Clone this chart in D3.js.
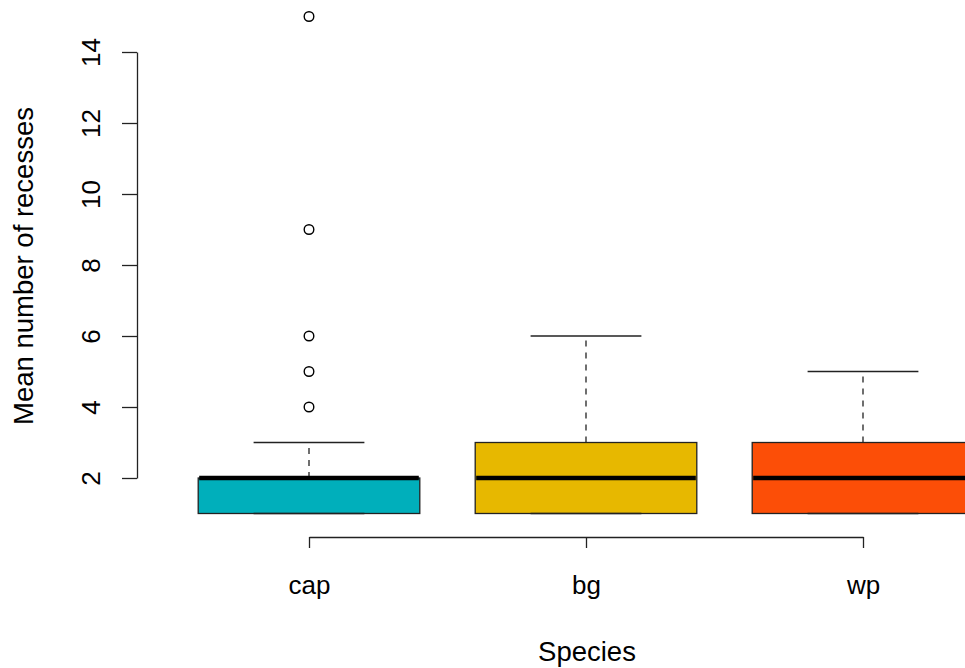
<!DOCTYPE html>
<html>
<head>
<meta charset="utf-8">
<script src="https://cdn.jsdelivr.net/npm/d3@7"></script>
<style>
  html, body { margin: 0; padding: 0; background: #fff; }
  svg { display: block; }
  text { font-family: "Liberation Sans", Arial, sans-serif; fill: #000; }
</style>
</head>
<body>
<div id="chart"></div>
<script>
// ---- data ----
const categories = ["cap", "bg", "wp"];
const whiskerLow = [1, 1, 1];
const q1 = [1, 1, 1];
const median = [2, 2, 2];
const q3 = [2, 3, 3];
const whiskerHigh = [3, 6, 5];
const outliers = [[4, 5, 6, 9, 15], [], []];
const fills = ["#00AFBB", "#E7B800", "#FC4E07"];
const yTicks = [2, 4, 6, 8, 10, 12, 14];
const yLabel = "Mean number of recesses";
const xLabel = "Species";

// ---- layout ----
const W = 965, H = 668;
const fontSize = 26;
const labelSize = 27.5;
const svg = d3.select("#chart").append("svg").attr("width", W).attr("height", H);

const y = d3.scaleLinear().domain([2, 14]).range([478, 52]);
const x = d3.scalePoint().domain(categories).range([309, 863]);
const boxW = x.step() * 0.8;

const boxes = categories.map((c, i) => ({
  c, lo: whiskerLow[i], q1: q1[i], med: median[i], q3: q3[i], hi: whiskerHigh[i],
  out: outliers[i], fill: fills[i]
}));

const g = svg.append("g");

// boxes
const b = g.selectAll("g.box").data(boxes).join("g").attr("class", "box");
b.append("rect")
  .attr("x", d => x(d.c) - boxW / 2)
  .attr("width", boxW)
  .attr("y", d => y(d.q3))
  .attr("height", d => y(d.q1) - y(d.q3))
  .attr("fill", d => d.fill)
  .attr("stroke", "#222")
  .attr("stroke-width", 1.3);
// upper whisker (dashed)
b.append("line")
  .attr("x1", d => x(d.c)).attr("x2", d => x(d.c))
  .attr("y1", d => y(d.q3)).attr("y2", d => y(d.hi))
  .attr("stroke", "#222").attr("stroke-width", 1.3)
  .attr("stroke-dasharray", "6,6");
// staples
b.append("line")
  .attr("x1", d => x(d.c) - boxW / 4).attr("x2", d => x(d.c) + boxW / 4)
  .attr("y1", d => y(d.hi)).attr("y2", d => y(d.hi))
  .attr("stroke", "#222").attr("stroke-width", 1.3);
b.append("line")
  .attr("x1", d => x(d.c) - boxW / 4).attr("x2", d => x(d.c) + boxW / 4)
  .attr("y1", d => y(d.lo)).attr("y2", d => y(d.lo))
  .attr("stroke", "#222").attr("stroke-width", 1.3);
// medians
b.append("line")
  .attr("x1", d => x(d.c) - boxW / 2 + 1).attr("x2", d => x(d.c) + boxW / 2 - 1)
  .attr("y1", d => y(d.med)).attr("y2", d => y(d.med))
  .attr("stroke", "#000").attr("stroke-width", 4.5);
// outliers
b.selectAll("circle").data(d => d.out.map(v => ({ c: d.c, v }))).join("circle")
  .attr("cx", d => x(d.c)).attr("cy", d => y(d.v)).attr("r", 4.8)
  .attr("fill", "none").attr("stroke", "#000").attr("stroke-width", 1.4);

// y axis
const yAxis = svg.append("g").attr("transform", "translate(137,0)")
  .call(d3.axisLeft(y).tickValues(yTicks).tickSize(15).tickSizeOuter(0).tickPadding(0));
yAxis.select(".domain").attr("stroke", "#222").attr("stroke-width", 1.3);
yAxis.selectAll(".tick line").attr("stroke", "#222").attr("stroke-width", 1.3);
yAxis.selectAll(".tick text")
  .attr("x", null).attr("dy", null)
  .attr("font-size", fontSize)
  .attr("text-anchor", "middle")
  .attr("transform", "translate(-37,0) rotate(-90)")
  .style("font-family", "'Liberation Sans', Arial, sans-serif");

// x axis
const xAxis = svg.append("g").attr("transform", "translate(0,537)")
  .call(d3.axisBottom(x).tickSize(11).tickSizeOuter(0).tickPadding(0));
xAxis.select(".domain").attr("stroke", "#222").attr("stroke-width", 1.3);
xAxis.selectAll(".tick text")
  .attr("y", 57).attr("dy", null)
  .attr("font-size", fontSize)
  .style("font-family", "'Liberation Sans', Arial, sans-serif");
xAxis.selectAll(".tick line").attr("stroke", "#222").attr("stroke-width", 1.3);

// axis labels
svg.append("text")
  .attr("transform", "translate(33,266) rotate(-90)")
  .attr("text-anchor", "middle")
  .attr("font-size", labelSize)
  .text(yLabel);
svg.append("text")
  .attr("x", 587).attr("y", 661)
  .attr("text-anchor", "middle")
  .attr("font-size", labelSize)
  .text(xLabel);
</script>
</body>
</html>
